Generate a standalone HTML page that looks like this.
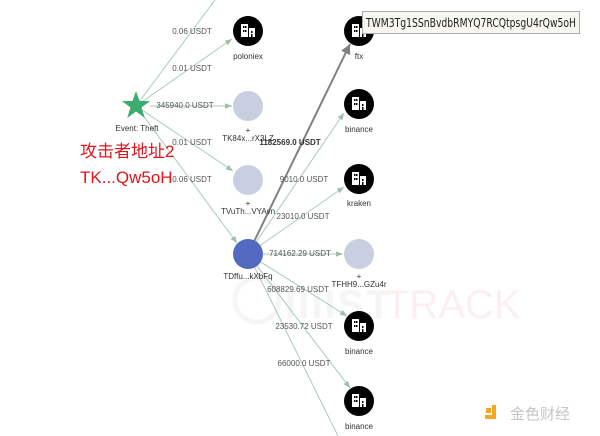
<!DOCTYPE html>
<html><head><meta charset="utf-8"><style>
html,body{margin:0;padding:0;background:#fff;width:600px;height:436px;overflow:hidden}
svg text{font-family:"Liberation Sans",Arial,sans-serif}
</style></head><body>
<svg width="600" height="436" viewBox="0 0 600 436" xmlns="http://www.w3.org/2000/svg">
<defs>
<marker id="ag" viewBox="0 0 10 10" refX="10" refY="5" markerWidth="7" markerHeight="7" orient="auto"><path d="M0,1 L10,5 L0,9 z" fill="#9dbfa8"/></marker>
<marker id="ad" viewBox="0 0 10 10" refX="10" refY="5" markerWidth="5" markerHeight="5" orient="auto"><path d="M0,0 L10,5 L0,10 z" fill="#808080"/></marker>
<g id="bld"><circle r="15" fill="#000"/><rect x="-7" y="-7" width="7" height="13" fill="#fff"/><rect x="1" y="-3" width="6" height="9" fill="#fff"/><rect x="-5" y="-5" width="1.5" height="2" fill="#000"/><rect x="-3" y="-5" width="1.5" height="2" fill="#000"/><rect x="-5" y="-1" width="1.5" height="2" fill="#000"/><rect x="-3" y="-1" width="1.5" height="2" fill="#000"/><rect x="3" y="0" width="1.5" height="2" fill="#000"/><rect x="3" y="3" width="1.5" height="3" fill="#000"/></g>
</defs>
<g opacity="0.08">
<circle cx="257" cy="300" r="22" fill="none" stroke="#888" stroke-width="5"/>
<text x="285" y="318" font-size="40" fill="#888" font-weight="bold" letter-spacing="2">IIIIST</text>
<text x="385" y="318" font-size="40" fill="#e04040">TRACK</text>
</g>
<g stroke="#a9cbb4" stroke-width="1" fill="none">
<line x1="136" y1="106" x2="215" y2="0"/>
<line x1="136" y1="106" x2="232" y2="39" marker-end="url(#ag)"/>
<line x1="150" y1="106" x2="232" y2="106" marker-end="url(#ag)"/>
<line x1="136" y1="106" x2="233" y2="171" marker-end="url(#ag)"/>
<line x1="136" y1="106" x2="237" y2="243" marker-end="url(#ag)"/>
<line x1="248" y1="254" x2="344" y2="113" marker-end="url(#ag)"/>
<line x1="248" y1="254" x2="344" y2="187" marker-end="url(#ag)"/>
<line x1="262" y1="254" x2="343" y2="254" marker-end="url(#ag)"/>
<line x1="248" y1="254" x2="347" y2="316" marker-end="url(#ag)"/>
<line x1="248" y1="254" x2="350" y2="388" marker-end="url(#ag)"/>
<line x1="248" y1="254" x2="338" y2="436"/>
</g>
<line x1="248" y1="254" x2="350" y2="44" stroke="#808080" stroke-width="2" marker-end="url(#ad)"/>
<g font-size="8" fill="#555" text-anchor="middle">
<text x="192" y="34">0.06 USDT</text>
<text x="192" y="71">0.01 USDT</text>
<text x="185" y="108">345940.0 USDT</text>
<text x="192" y="145">0.01 USDT</text>
<text x="192" y="182">0.06 USDT</text>
<text x="290" y="145" font-weight="bold" fill="#333">1182569.0 USDT</text>
<text x="304" y="182">9010.0 USDT</text>
<text x="303" y="219">23010.0 USDT</text>
<text x="300" y="256">714162.29 USDT</text>
<text x="298" y="292">608829.69 USDT</text>
<text x="304" y="329">23530.72 USDT</text>
<text x="304" y="366">66000.0 USDT</text>
</g>
<polygon points="136,91 139.5,101 150,101 141.5,107.5 144.8,118 136,111.5 127.2,118 130.5,107.5 122,101 132.5,101" fill="#3daa6e"/>
<text x="137" y="131" font-size="8" fill="#333" text-anchor="middle">Event: Theft</text>
<use href="#bld" x="248" y="31"/>
<text x="248" y="59" font-size="8" fill="#333" text-anchor="middle">poloniex</text>
<circle cx="248" cy="106" r="15" fill="#c8cfe0"/>
<text x="248" y="133" font-size="8" fill="#333" text-anchor="middle">+</text>
<text x="248" y="141" font-size="8" fill="#333" text-anchor="middle">TK84x...rX3LZ</text>
<circle cx="248" cy="180" r="15" fill="#c8cfe0"/>
<text x="248" y="206" font-size="8" fill="#333" text-anchor="middle">+</text>
<text x="248" y="214" font-size="8" fill="#333" text-anchor="middle">TVuTh...VYAvn</text>
<circle cx="248" cy="254" r="15" fill="#5469c0"/>
<text x="248" y="279" font-size="8" fill="#333" text-anchor="middle">TDffu...kXbFq</text>
<use href="#bld" x="359" y="31"/>
<text x="359" y="59" font-size="8" fill="#333" text-anchor="middle">ftx</text>
<use href="#bld" x="359" y="104"/>
<text x="359" y="132" font-size="8" fill="#333" text-anchor="middle">binance</text>
<use href="#bld" x="359" y="179"/>
<text x="359" y="206" font-size="8" fill="#333" text-anchor="middle">kraken</text>
<circle cx="359" cy="254" r="15" fill="#c8cfe0"/>
<text x="359" y="279" font-size="8" fill="#333" text-anchor="middle">+</text>
<text x="359" y="287" font-size="8" fill="#333" text-anchor="middle">TFHH9...GZu4r</text>
<use href="#bld" x="359" y="326"/>
<text x="359" y="354" font-size="8" fill="#333" text-anchor="middle">binance</text>
<use href="#bld" x="359" y="401"/>
<text x="359" y="429" font-size="8" fill="#333" text-anchor="middle">binance</text>
<text x="80" y="157" font-size="17" fill="#e0151c" style="font-family:'Liberation Sans','Noto Sans CJK SC',sans-serif">攻击者地址2</text>
<text x="80" y="183" font-size="17" fill="#e0151c">TK...Qw5oH</text>
<rect x="362.5" y="11.5" width="217" height="22" fill="#f7f7f0" stroke="#aaa"/>
<text x="366" y="27" font-size="12" fill="#222" style="font-family:'DejaVu Sans',sans-serif" textLength="210" lengthAdjust="spacingAndGlyphs">TWM3Tg1SSnBvdbRMYQ7RCQtpsgU4rQw5oH</text>
<rect x="486" y="408" width="5" height="5" fill="#f5a623"/>
<rect x="492" y="405" width="4" height="14" fill="#f5a623"/>
<rect x="485" y="415" width="11" height="4" fill="#f5a623"/>
<text x="510" y="419" font-size="15" fill="#c4c4c4" style="font-family:'Noto Sans CJK SC',sans-serif">金色财经</text>
</svg>
</body></html>
